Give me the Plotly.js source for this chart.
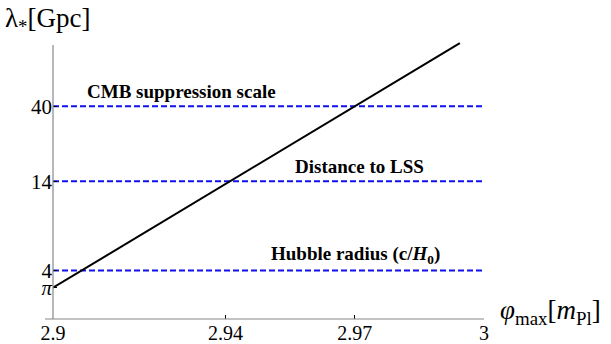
<!DOCTYPE html>
<html><head><meta charset="utf-8">
<script src="https://cdn.plot.ly/plotly-3.0.1.min.js"></script>
<style>html,body{margin:0;padding:0;background:#fff}#c{width:611px;height:344px}</style>
</head><body><div id="c"></div>
<script>
// data
var phi = [2.9, 2.94, 2.97, 2.9944];
var lambdaGpc = [3.1416, 13.4, 40, 97];
var scaleNames = ["CMB suppression scale", "Distance to LSS", "Hubble radius (c/<i>H</i><sub>0</sub>)"];
var scaleValues = [40, 14, 4];
var scaleLabelPhi = [2.9299, 2.9710, 2.9701];
var xTickVals = [2.9, 2.94, 2.97, 3];
var xTickText = ["2.9", "2.94", "2.97", "3"];
var yTickVals = [Math.PI, 4, 14, 40];
var yTickText = ["<i>π</i>", "4", "14", "40"];

var SERIF = "'Liberation Serif', 'Times New Roman', Times, 'DejaVu Serif', serif";
var L = 53, R = 484, T = 40, B = 319, W = 611, H = 344;
var pw = R - L, ph = B - T;
function px(x){return (x - L)/pw;}
function py(y){return (B - y)/ph;}

var traces = [];
for (var i = 0; i < scaleValues.length; i++) {
  traces.push({x:[2.9, 3.0], y:[scaleValues[i], scaleValues[i]], mode:'lines',
    line:{color:'#1010ee', width:2, dash:'6px,3px'}, hoverinfo:'skip', showlegend:false});
}
traces.push({x:phi, y:lambdaGpc, mode:'lines', line:{color:'#000', width:2}, showlegend:false});

var annotations = [];
for (var j = 0; j < scaleNames.length; j++) {
  annotations.push({x:scaleLabelPhi[j], y:Math.log10(scaleValues[j]), xref:'x', yref:'y',
    text:'<b>'+scaleNames[j]+'</b>', showarrow:false, yanchor:'bottom', yshift:2,
    font:{family:SERIF, size:19, color:'#000'}});
}
annotations.push({x:px(3), y:py(1), xref:'paper', yref:'paper', xanchor:'left', yanchor:'top',
  text:'λ<sub>*</sub>[Gpc]', showarrow:false, font:{family:SERIF, size:27, color:'#000'}});
annotations.push({x:px(498), y:py(312), xref:'paper', yref:'paper', xanchor:'left', yanchor:'middle',
  text:'<i>φ</i><sub>max</sub>[<i>m</i><sub>Pl</sub>]', showarrow:false, font:{family:SERIF, size:27, color:'#000'}});

var axisColor = '#888';
var shapes = [
  {type:'line', xref:'paper', yref:'paper', x0:px(45), x1:px(484), y0:0, y1:0, line:{color:axisColor, width:1.2}},
  {type:'line', xref:'paper', yref:'paper', x0:0, x1:0, y0:0, y1:py(45), line:{color:axisColor, width:1.2}}
];

var layout = {
  width:W, height:H, margin:{l:L, r:W-R, t:T, b:H-B}, paper_bgcolor:'#fff', plot_bgcolor:'#fff',
  font:{family:SERIF},
  xaxis:{range:[2.9, 3.0], showgrid:false, zeroline:false, showline:false, tickmode:'array',
    tickvals:xTickVals, ticktext:xTickText, ticks:'inside', ticklen:4, tickcolor:'#000', tickwidth:1,
    ticklabelstandoff:0, tickfont:{family:SERIF, size:20, color:'#000'}},
  yaxis:{type:'log', range:[0.3067, 2.0059], showgrid:false, zeroline:false, showline:false, tickmode:'array',
    tickvals:yTickVals, ticktext:yTickText, ticks:'inside', ticklen:4, tickcolor:'#000', tickwidth:1,
    tickfont:{family:SERIF, size:21, color:'#000'}},
  annotations:annotations, shapes:shapes, showlegend:false
};
Plotly.newPlot('c', traces, layout, {staticPlot:true});
</script></body></html>
